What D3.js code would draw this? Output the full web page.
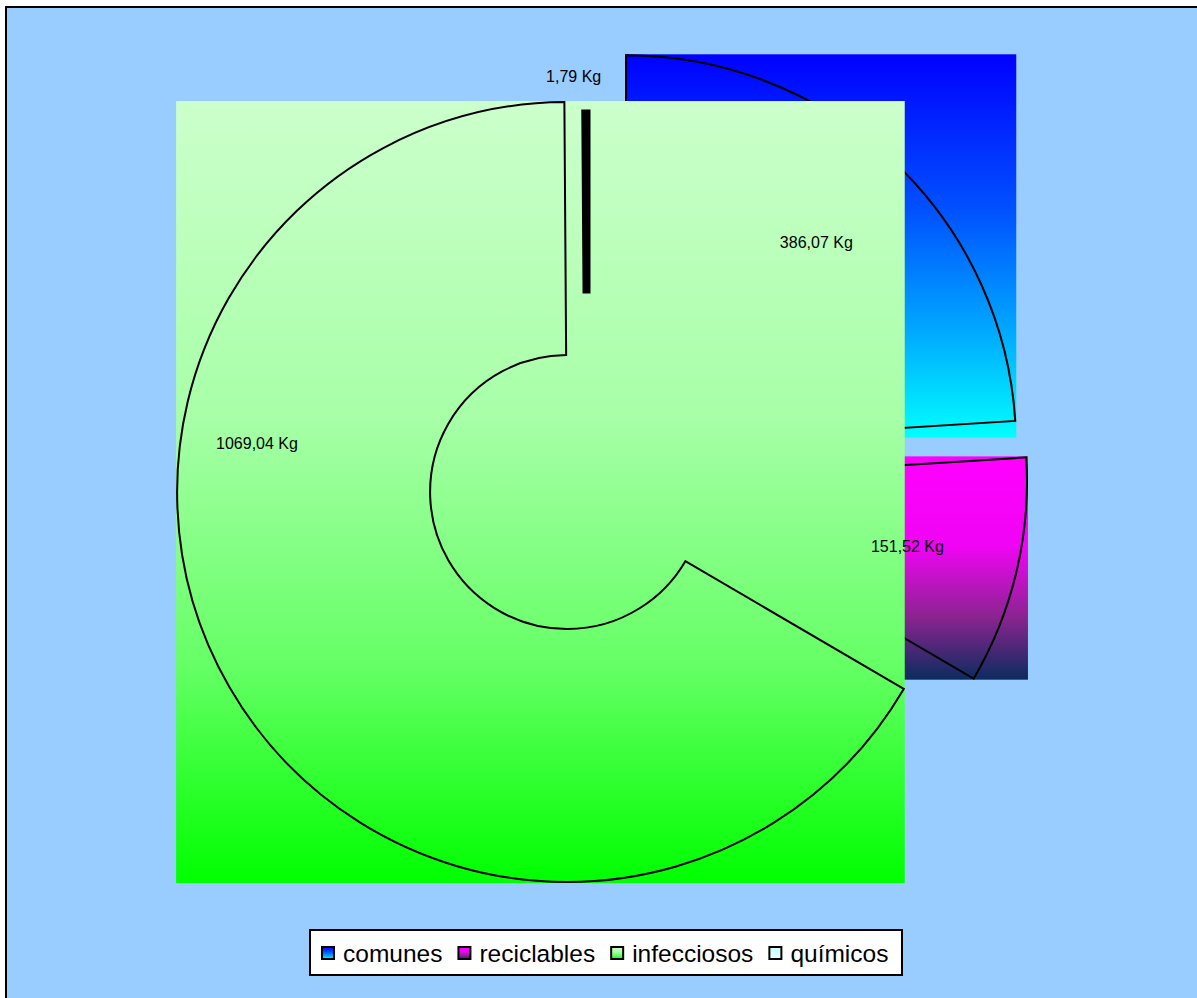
<!DOCTYPE html>
<html>
<head>
<meta charset="utf-8">
<script src="https://cdn.jsdelivr.net/npm/d3@7"></script>
<style>
  html, body { margin: 0; padding: 0; background: #fff; overflow: hidden; }
  svg { display: block; font-family: "Liberation Sans", Arial, sans-serif; }
</style>
</head>
<body>
<svg id="chart" width="1197" height="998"></svg>
<script>
// waste by type, in Kg
var categories = ['comunes', 'reciclables', 'infecciosos', 'químicos'];
var values = [386.07, 151.52, 1069.04, 1.79];
var labels = ['386,07 Kg', '151,52 Kg', '1069,04 Kg', '1,79 Kg'];
// gradient stops per slice (top -> bottom)
var gradStops = [
  ['#0000ff', '#0050ff', '#00a8ff', '#00ffff'],
  ['#ff00ff', '#f004f4', '#8a2490', '#0b2c5e'],
  ['#ccffcc', '#a8ffa8', '#66ff66', '#00ff00'],
  ['#ccffff', '#d4ffff', '#e0ffff', '#eaffff']
];
var stopOffsets = [0, 0.4, 0.72, 1];

var svg = d3.select('#chart');
var defs = svg.append('defs');

// frame, only top/left edges are on screen
svg.append('rect')
  .attr('x', 6).attr('y', 7)
  .attr('width', 1400).attr('height', 1200)
  .attr('fill', '#99ccff')
  .attr('stroke', '#000').attr('stroke-width', 2);

categories.forEach(function (c, i) {
  var g = defs.append('linearGradient')
    .attr('id', 'grad' + i)
    .attr('x1', 0).attr('y1', 0).attr('x2', 0).attr('y2', 1);
  gradStops[i].forEach(function (col, j) {
    g.append('stop').attr('offset', stopOffsets[j]).attr('stop-color', col);
  });
});

var data = categories.map(function (c, i) {
  return { name: c, value: values[i], label: labels[i], idx: i };
});

var pie = d3.pie().sort(null).value(function (d) { return d.value; });
var arcs = pie(data);

var cx = 600, cy = 473;
var outerR = 390, innerR = 137, explode = 38;
var arc = d3.arc().innerRadius(innerR).outerRadius(outerR);
// the tiny slice gets drawn differently by the original (thick bar)
var thinArc = d3.arc().innerRadius(140).outerRadius(317);

function sliceCenter(a) {
  if (a.data.name === 'químicos') return [587, 430];
  var m = (a.startAngle + a.endAngle) / 2;
  return [cx + explode * Math.sin(m), cy - explode * Math.cos(m)];
}

// label placement: mid angle, except where the original moved them
var labelOverride = {
  'infecciosos': { deg: 279, r: 314 },
  'químicos': { deg: -3.8, r: 397, base: true }
};

var slices = svg.append('g');
arcs.forEach(function (a) {
  var c = sliceCenter(a);
  var g = slices.append('g').attr('transform', 'translate(' + c[0] + ',' + c[1] + ')');
  var thin = a.data.name === 'químicos';
  var path = g.append('path')
    .attr('d', thin ? thinArc(a) : arc(a))
    .attr('fill', 'none')
    .attr('stroke', '#000')
    .attr('stroke-width', thin ? 7 : 2)
    .attr('stroke-linejoin', 'miter');
  var bb = path.node().getBBox();
  // the gradient fills the whole bounding box of the slice
  g.insert('rect', 'path')
    .attr('x', bb.x - 1).attr('y', bb.y - 1)
    .attr('width', bb.width + 2).attr('height', bb.height + 2)
    .attr('fill', 'url(#grad' + a.data.idx + ')');
});

var lab = svg.append('g')
  .attr('font-size', 16)
  .attr('fill', '#000')
  .attr('text-anchor', 'middle');

arcs.forEach(function (a) {
  var c = sliceCenter(a);
  var o = labelOverride[a.data.name];
  var ang, r, ox = c[0], oy = c[1];
  if (o) {
    ang = o.deg * Math.PI / 180; r = o.r;
    if (o.base) { ox = cx; oy = cy; }
  } else {
    ang = (a.startAngle + a.endAngle) / 2; r = 278;
  }
  lab.append('text')
    .attr('x', ox + r * Math.sin(ang))
    .attr('y', oy - r * Math.cos(ang))
    .attr('dy', '0.35em')
    .text(a.data.label);
});

// legend
var legend = svg.append('g');
legend.append('rect')
  .attr('x', 310).attr('y', 930)
  .attr('width', 592).attr('height', 45)
  .attr('fill', '#fff')
  .attr('stroke', '#000').attr('stroke-width', 2);

var lx = 322;
categories.forEach(function (c, i) {
  legend.append('rect')
    .attr('x', lx).attr('y', 947)
    .attr('width', 12).attr('height', 12)
    .attr('fill', 'url(#grad' + i + ')')
    .attr('stroke', '#000').attr('stroke-width', 2);
  var t = legend.append('text')
    .attr('x', lx + 21).attr('y', 962)
    .attr('font-size', 24.5)
    .text(c);
  lx += 21 + t.node().getComputedTextLength() + 16;
});
</script>
</body>
</html>
